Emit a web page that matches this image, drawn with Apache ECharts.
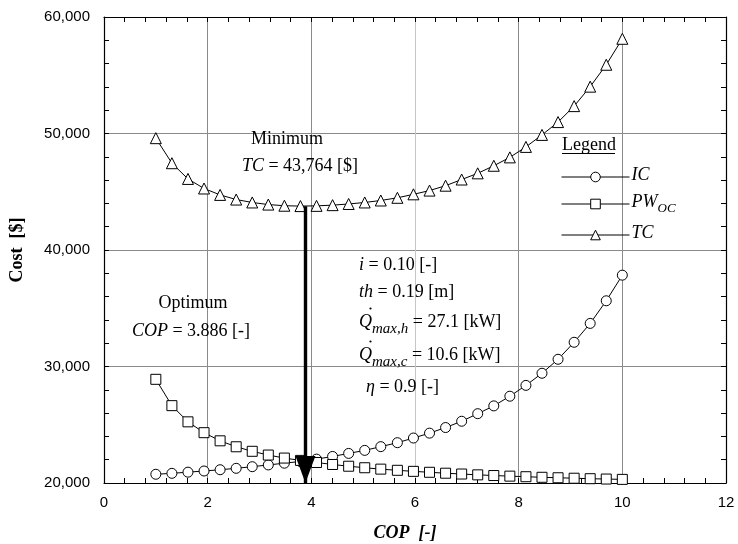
<!DOCTYPE html>
<html>
<head>
<meta charset="utf-8">
<script src="https://cdn.jsdelivr.net/npm/echarts@6/dist/echarts.min.js"></script>
<style>
  html, body { margin: 0; padding: 0; background: #fff; }
  #chart { width: 738px; height: 544px; }
</style>
</head>
<body>
<div id="chart"></div>
<script>
// Coefficient of performance (x) for each evaluated design point
const cop = [1.00, 1.31, 1.62, 1.93, 2.24, 2.55, 2.86, 3.17, 3.48, 3.79,
             4.10, 4.41, 4.72, 5.03, 5.34, 5.66, 5.97, 6.28, 6.59, 6.90,
             7.21, 7.52, 7.83, 8.14, 8.45, 8.76, 9.07, 9.38, 9.69, 10.00];

// Investment cost [$]
const ic = [20750, 20830, 20930, 21030, 21140, 21260, 21400, 21550, 21700, 21850,
            22050, 22280, 22540, 22800, 23120, 23460, 23860, 24280, 24760, 25300,
            25950, 26620, 27450, 28380, 29420, 30620, 32080, 33700, 35640, 37840];

// Present worth of operating cost [$]
const pwoc = [28900, 26640, 25250, 24320, 23620, 23110, 22720, 22400, 22140, 21940,
              21760, 21590, 21440, 21310, 21190, 21090, 21000, 20920, 20840, 20770,
              20700, 20640, 20590, 20540, 20490, 20450, 20410, 20370, 20340, 20310];

// Total cost [$]
const tc = [49600, 47450, 46100, 45280, 44730, 44330, 44080, 43900, 43800, 43770,
            43790, 43850, 43950, 44080, 44250, 44480, 44780, 45100, 45520, 46050,
            46580, 47230, 47950, 48850, 49880, 50980, 52350, 54020, 55900, 58130];

// Axis tick values
const xTicks = [0, 2, 4, 6, 8, 10, 12];
const yTicks = [20000, 30000, 40000, 50000, 60000];

// Optimum marked by the arrow
const optimumCop = 3.886;
const minimumTc = 43764;

const SERIF = 'Liberation Serif';
const SANS = 'Liberation Sans';

function costSeries(name, values, symbol, size) {
  return {
    name: name,
    type: 'line',
    data: cop.map((x, i) => [x, values[i]]),
    symbol: symbol,
    symbolSize: size,
    showAllSymbol: true,
    smooth: false,
    lineStyle: { color: '#000', width: 1 },
    itemStyle: { color: '#fff', borderColor: '#000', borderWidth: 1 },
    emphasis: { disabled: true },
    silent: true
  };
}

const tickStyle = { show: true, inside: true, length: 5, lineStyle: { color: '#000', width: 1 } };
const minorStyle = { show: true, splitNumber: 5, length: 5, lineStyle: { color: '#000', width: 1 } };
const lineStyleAxis = { show: true, onZero: false, lineStyle: { color: '#000', width: 1.2 } };
const GRID_GRAY = '#8a8a8a';
const yGridLine = { show: true, lineStyle: { color: GRID_GRAY, width: 1 } };
// the COP = 6 line is drawn in a lighter grey
const xGridLine = { show: true, lineStyle: { color: xTicks.map(v => v === 6 ? '#c6c6c6' : GRID_GRAY), width: 1 } };

const xRange = { min: xTicks[0], max: xTicks[xTicks.length - 1], interval: xTicks[1] - xTicks[0] };
const yRange = { min: yTicks[0], max: yTicks[yTicks.length - 1], interval: yTicks[1] - yTicks[0] };

const mathRich = {
  i: { fontFamily: SERIF, fontStyle: 'italic', fontSize: 18, color: '#000', verticalAlign: 'bottom', padding: [0, 0, 5, 0] },
  n: { fontFamily: SERIF, fontSize: 18, color: '#000', verticalAlign: 'bottom', padding: [0, 0, 5, 0] },
  s: { fontFamily: SERIF, fontStyle: 'italic', fontSize: 15, color: '#000', verticalAlign: 'bottom' }
};

function label(text, x, y, align, rich) {
  return {
    type: 'text', x: x, y: y, silent: true, z: 50,
    style: {
      text: text, fill: '#000',
      fontFamily: SERIF, fontSize: 18,
      align: align, textAlign: align,
      verticalAlign: 'middle', textVerticalAlign: 'middle',
      rich: rich || mathRich
    }
  };
}

const chart = echarts.init(document.getElementById('chart'), null, { renderer: 'canvas' });

chart.setOption({
  animation: false,
  backgroundColor: '#fff',
  grid: { left: 104, right: 12, top: 17, bottom: 61, containLabel: false, outerBoundsMode: 'none' },
  xAxis: [
    Object.assign({
      type: 'value', position: 'bottom',
      name: '{b|COP  [-]}', nameLocation: 'middle', nameGap: 41,
      nameTextStyle: {
        padding: [0, 20, 0, 0],
        rich: { b: { fontFamily: SERIF, fontWeight: 'bold', fontStyle: 'italic', fontSize: 18, color: '#000' } }
      },
      axisLine: lineStyleAxis, axisTick: tickStyle, minorTick: minorStyle, splitLine: xGridLine,
      axisLabel: { fontFamily: SANS, fontSize: 15, color: '#000', margin: 12 }
    }, xRange),
    Object.assign({
      type: 'value', position: 'top',
      axisLine: lineStyleAxis, axisTick: tickStyle, minorTick: minorStyle,
      splitLine: { show: false }, axisLabel: { show: false }
    }, xRange)
  ],
  yAxis: [
    Object.assign({
      type: 'value', position: 'left',
      name: 'Cost  [$]', nameLocation: 'middle', nameGap: 78, nameRotate: 90,
      nameTextStyle: { fontFamily: SERIF, fontWeight: 'bold', fontSize: 18, color: '#000' },
      axisLine: lineStyleAxis, axisTick: tickStyle, minorTick: minorStyle, splitLine: yGridLine,
      axisLabel: {
        fontFamily: SANS, fontSize: 15, color: '#000', margin: 14,
        formatter: v => v.toLocaleString('en-US')
      }
    }, yRange),
    Object.assign({
      type: 'value', position: 'right',
      axisLine: lineStyleAxis, axisTick: tickStyle, minorTick: minorStyle,
      splitLine: { show: false }, axisLabel: { show: false }
    }, yRange)
  ],
  legend: {
    orient: 'vertical',
    left: 561, top: 166, padding: 0,
    itemWidth: 68, itemHeight: 12, itemGap: 9,
    selectedMode: false,
    data: ['IC', 'PW_OC', 'TC'],
    lineStyle: { width: 1, color: '#000' },
    itemStyle: { borderWidth: 1, borderColor: '#000', color: '#fff' },
    formatter: name => name === 'PW_OC' ? '{m|PW}{s|OC}' : '{m|' + name + '}',
    textStyle: {
      padding: [0, 0, 0, -3],
      rich: {
        m: { fontFamily: SERIF, fontStyle: 'italic', fontSize: 18, color: '#000', verticalAlign: 'bottom', padding: [0, 0, 4, 0] },
        s: { fontFamily: SERIF, fontStyle: 'italic', fontSize: 13, color: '#000', verticalAlign: 'bottom' }
      }
    }
  },
  series: [
    costSeries('IC', ic, 'circle', 10),
    costSeries('PW_OC', pwoc, 'rect', 10),
    Object.assign(costSeries('TC', tc, 'triangle', 11), {
      markLine: {
        silent: true, symbol: ['none', 'none'],
        label: { show: false },
        lineStyle: { color: '#000', width: 3.4, type: 'solid' },
        data: [[{ coord: [optimumCop, minimumTc] }, { coord: [optimumCop, yTicks[0]] }]]
      },
      markPoint: {
        silent: true,
        symbol: 'triangle', symbolSize: [20, 27], symbolRotate: 180,
        symbolOffset: [0, '-50%'],
        itemStyle: { color: '#000', borderWidth: 0 },
        label: { show: false },
        data: [{ coord: [optimumCop, yTicks[0]] }]
      }
    })
  ],
  graphic: [
    label('Minimum', 287, 139, 'center'),
    label('{i|TC}{n| = 43,764 [$]}', 300, 169, 'center'),
    label('Optimum', 193, 303, 'center'),
    label('{i|COP}{n| = 3.886 [-]}', 191, 334, 'center'),
    label('{i|i}{n| = 0.10 [-]}', 359, 268, 'left'),
    label('{i|th}{n| = 0.19 [m]}', 359, 295, 'left'),
    label('{i|Q}{s|max,h}{n| = 27.1 [kW]}', 359, 325, 'left'),
    label('{i|Q}{s|max,c}{n| = 10.6 [kW]}', 359, 358, 'left'),
    label('{i|η}{n| = 0.9 [-]}', 366, 390, 'left'),
    { type: 'circle', silent: true, shape: { cx: 370.5, cy: 308.5, r: 1.1 }, style: { fill: '#000' } },
    { type: 'circle', silent: true, shape: { cx: 370.5, cy: 341.5, r: 1.1 }, style: { fill: '#000' } },
    label('Legend', 562, 145, 'left', {}),
    { type: 'line', silent: true, shape: { x1: 562, y1: 153.5, x2: 615, y2: 153.5 }, style: { stroke: '#000', lineWidth: 1 } }
  ]
});
</script>
</body>
</html>
